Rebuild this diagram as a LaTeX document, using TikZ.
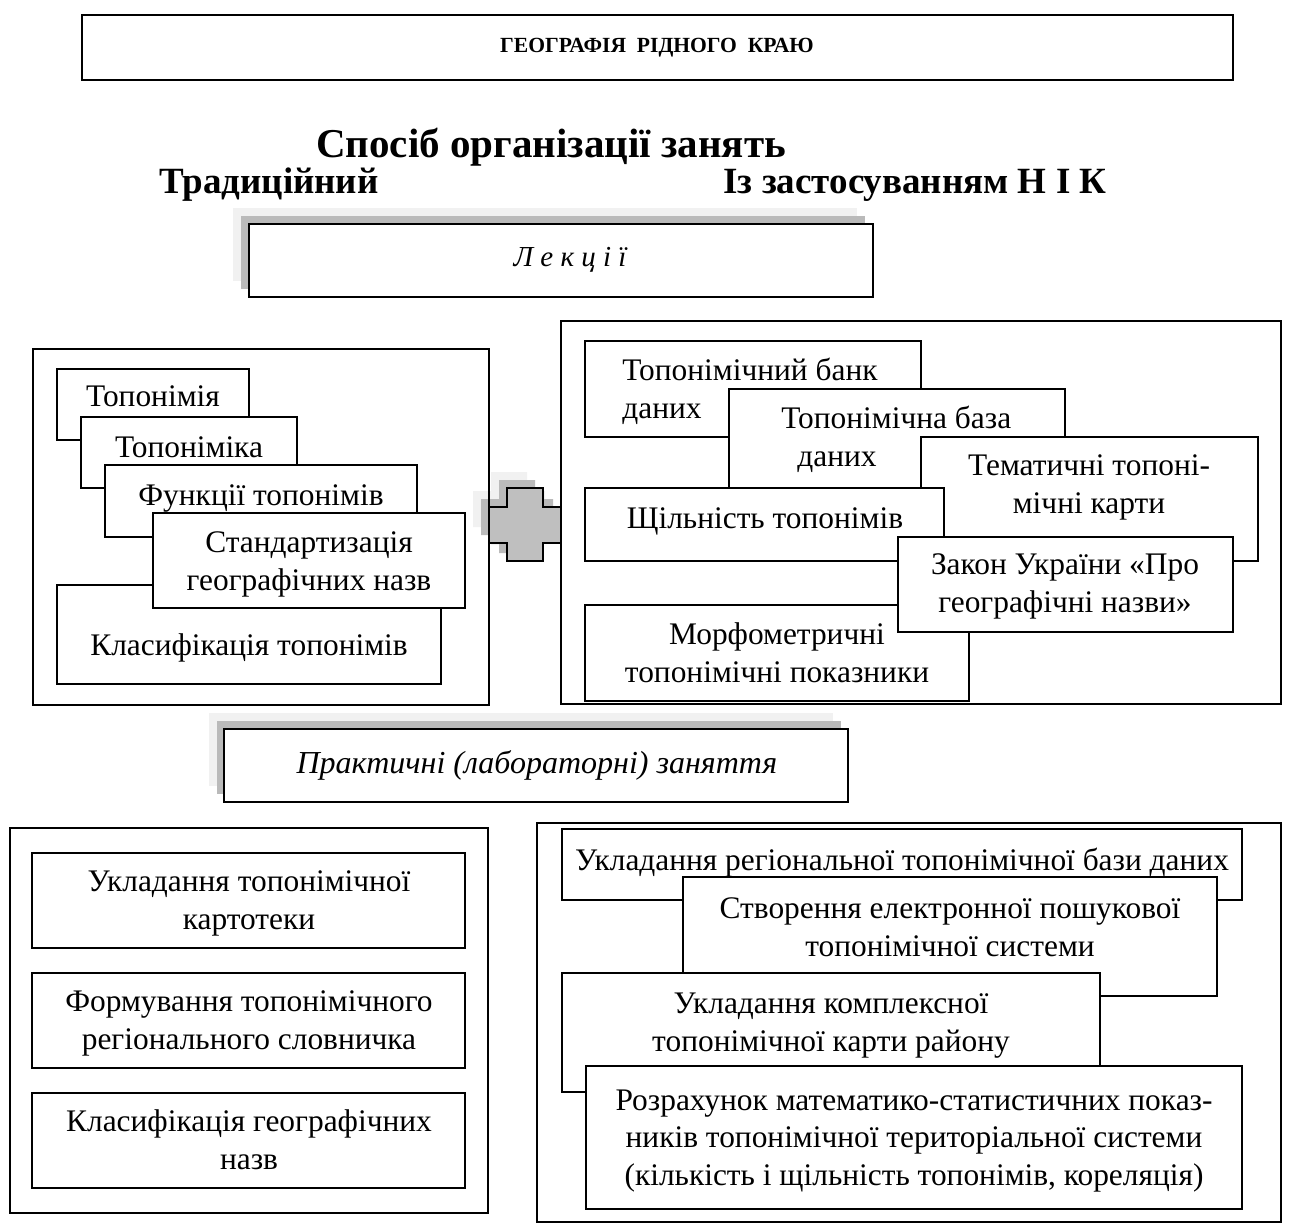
\documentclass[tikz,border=0pt]{standalone}
\usepackage{fontspec}
\setmainfont{Liberation Serif}
\definecolor{shadeA}{gray}{0.945}
\definecolor{shadeB}{gray}{0.73}
\definecolor{plusgray}{gray}{0.75}
\newcommand\mkbox[6][]{%
  \pgfmathsetmacro\bxw{(#5-#3)*0.5}%
  \pgfmathsetmacro\bxh{(#6-#4)*0.5}%
  \node[box,minimum width=\bxw pt,minimum height=\bxh pt,#1] (#2) at ({(#3+#5)/2},{(#4+#6)/2}) {};}
\begin{document}
\begin{tikzpicture}[x=0.5pt,y=-0.5pt,
  box/.style={draw,line width=0.9pt,fill=white,inner sep=0pt,outer sep=0pt},
  frame/.style={box,fill=none},
  txt/.style={inner sep=0pt,align=center,font=\fontsize{15.7}{18.75}\selectfont},
  head/.style={inner sep=0pt,font=\fontsize{18.5}{21}\selectfont\bfseries},
  shA/.style={fill=shadeA},
  shB/.style={fill=shadeB}]
\useasboundingbox (0,0) rectangle (1289,1227);

% title
\mkbox{titlebox}{82}{15}{1233}{80}
\node[inner sep=0pt,font=\fontsize{10.8}{13}\selectfont\bfseries] (title) at (657,48) {ГЕОГРАФІЯ\ \ РІДНОГО\ \ КРАЮ};
\node[head,font=\fontsize{20.5}{24}\selectfont\bfseries] (way) at (551,147) {Спосіб організації занять};
\node[head] (trad) at (269,185) {Традиційний};
\node[head] (nik) at (915,185) {Із застосуванням Н\ І\ К};

% lectures heading with shadow
\fill[shA] (232.7,208.3) rectangle (857.3,281);
\fill[shB] (240.7,216.3) rectangle (865.3,289);
\mkbox{lect}{248.7}{224.3}{873.3}{296.7}
\node[inner sep=0pt,font=\fontsize{14.5}{17}\selectfont\itshape] (lect-t) at (570,260) {Л е к ц і ї};

% plus sign with shadow
\def\plusPath{(507,488) -- (543,488) -- (543,507) -- (561,507) -- (561,543) -- (543,543) -- (543,561) -- (507,561) -- (507,543) -- (489,543) -- (489,507) -- (507,507) -- cycle}
\fill[shA,shift={(-16,-16)}] \plusPath;
\fill[shB,shift={(-8,-8)}] \plusPath;
\draw[line width=0.9pt,fill=plusgray] \plusPath;

% left lecture panel
\mkbox[frame]{lpan}{33}{349}{489}{705}
\mkbox{b1}{57}{369}{249}{440}
\node[txt,anchor=base] (b1-t) at (153,406) {Топонімія};
\mkbox{b2}{81}{417}{297}{488}
\node[txt,anchor=base] (b2-t) at (189,457) {Топоніміка};
\mkbox{b3}{105}{465}{417}{537}
\node[txt,anchor=base] (b3-t) at (261,505) {Функції топонімів};
\mkbox{b5}{57}{585}{441}{684}
\node[txt,anchor=base] (b5-t) at (249,655) {Класифікація топонімів};
\mkbox{b4}{153}{513}{465}{608}
\node[txt,anchor=base] (b4-t) at (309,590) {Стандартизація\\географічних назв};

% right lecture panel
\mkbox[frame]{rpan}{561}{321}{1281}{704}
\mkbox{c1}{585}{341}{921}{437}
\node[txt,align=left,anchor=base west] (c1-t) at (622,418) {Топонімічний банк\\даних};
\mkbox{c2}{729}{389}{1065}{488}
\node[txt,align=left,anchor=base west] (c2-t) at (781,466) {Топонімічна база\\\hspace*{8pt}даних};
\mkbox{c3}{921}{437}{1258}{561}
\node[txt,anchor=base] (c3-t) at (1089,513) {Тематичні топоні-\\мічні карти};
\mkbox{c4}{585}{488}{944}{561}
\node[txt,anchor=base] (c4-t) at (765,528) {Щільність топонімів};
\mkbox{c6}{585}{605}{969}{701}
\node[txt,anchor=base] (c6-t) at (777,682) {Морфометричні\\топонімічні показники};
\mkbox{c5}{898}{537}{1233}{632}
\node[txt,anchor=base] (c5-t) at (1065,612) {Закон України «Про\\географічні назви»};

% practical heading with shadow
\fill[shA] (209.3,713.3) rectangle (833,786);
\fill[shB] (216.8,721.3) rectangle (840.5,794);
\mkbox{prac}{224.3}{729.3}{848}{801.7}
\node[inner sep=0pt,font=\fontsize{16}{18}\selectfont\itshape] (prac-t) at (537,765) {Практичні (лабораторні) заняття};

% left practical panel
\mkbox[frame]{lpan2}{10}{828}{488}{1213}
\mkbox{d1}{32}{853}{465}{948}
\node[txt,anchor=base] (d1-t) at (249,929) {Укладання топонімічної\\картотеки};
\mkbox{d2}{32}{973}{465}{1068}
\node[txt,anchor=base] (d2-t) at (249,1049) {Формування топонімічного\\регіонального словничка};
\mkbox{d3}{32}{1093}{465}{1188}
\node[txt,anchor=base] (d3-t) at (249,1169) {Класифікація географічних\\назв};

% right practical panel
\mkbox[frame]{rpan2}{537}{823}{1281}{1222}
\mkbox{e1}{562}{829}{1242}{900}
\node[txt,anchor=base] (e1-t) at (902,870) {Укладання регіональної топонімічної бази даних};
\mkbox{e2}{683}{877}{1217}{996}
\node[txt,anchor=base] (e2-t) at (950,956) {Створення електронної пошукової\\топонімічної системи};
\mkbox{e3}{562}{973}{1100}{1092}
\node[txt,anchor=base] (e3-t) at (831,1051) {Укладання комплексної\\топонімічної карти району};
\mkbox{e4}{586}{1066}{1242}{1209}
\node[txt,anchor=base] (e4-t) at (914,1185) {Розрахунок математико-статистичних показ-\\ників топонімічної територіальної системи\\(кількість і щільність топонімів, кореляція)};
\end{tikzpicture}
\end{document}
